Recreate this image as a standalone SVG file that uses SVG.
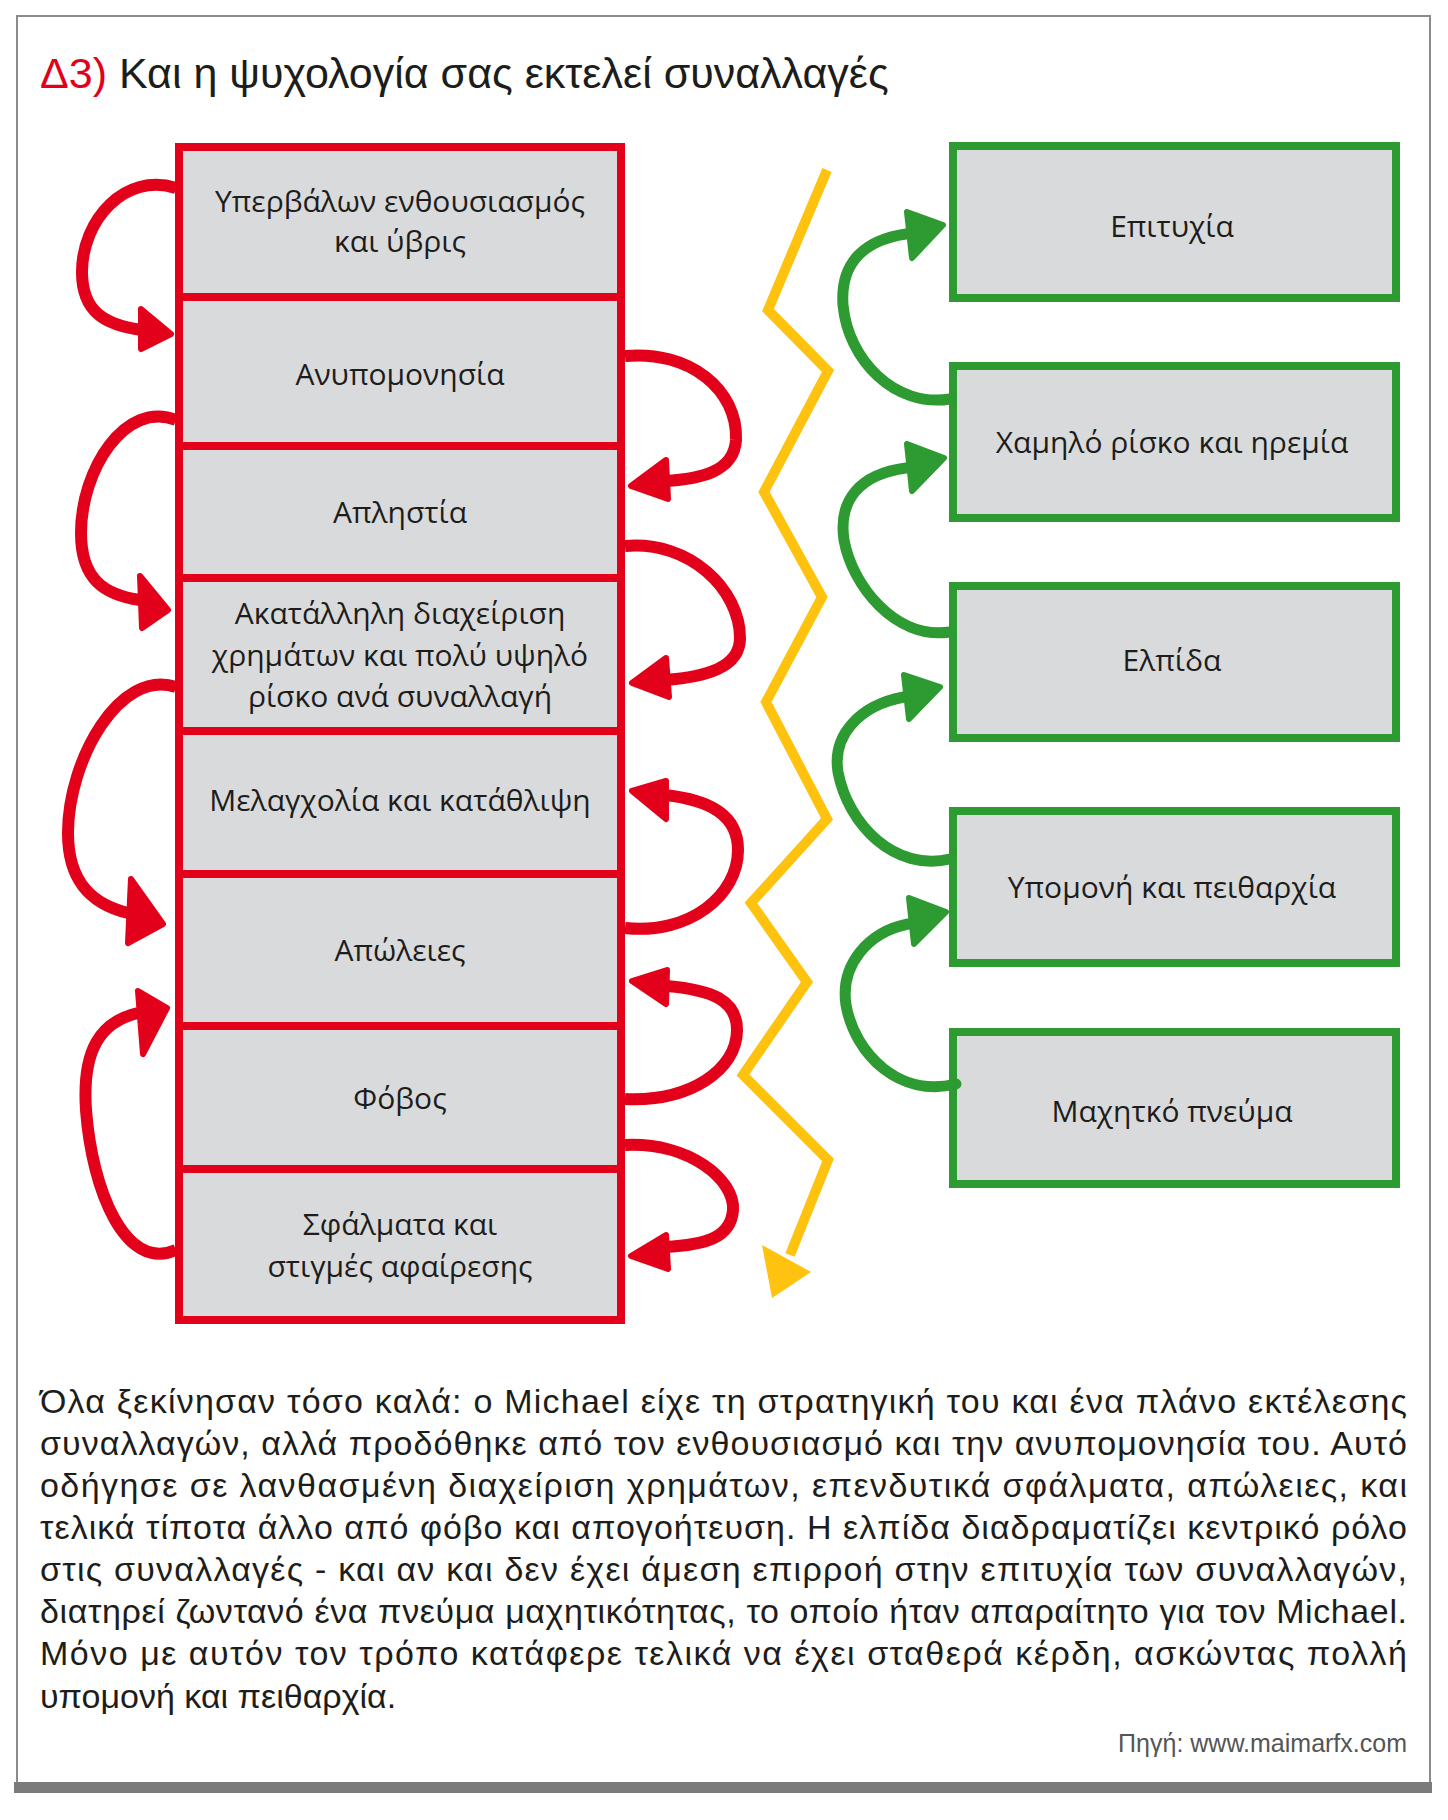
<svg xmlns="http://www.w3.org/2000/svg" width="1448" height="1820" viewBox="0 0 1448 1820">
<style>
.frame{fill:none;stroke:#8c8c8c;stroke-width:2}
.rbox{fill:#D9DADC;stroke:#E2001A;stroke-width:8}
.gbox{fill:#D9DADC;stroke:#2E9A32;stroke-width:8}
.lbl{font-family:"Open Sans","Noto Sans",sans-serif;font-size:30px;fill:#1d1d1b;text-anchor:middle}
.rl{fill:none;stroke:#E2001A;stroke-width:12}
.rh{fill:#E2001A;stroke:#E2001A;stroke-width:6;stroke-linejoin:round}
.gl{fill:none;stroke:#2E9A32;stroke-width:11;stroke-linecap:round}
.gh{fill:#2E9A32;stroke:#2E9A32;stroke-width:6;stroke-linejoin:round}
.yl{fill:none;stroke:#FFC20E;stroke-width:10;stroke-linejoin:miter;stroke-miterlimit:10}
.yh{fill:#FFC20E}
.para{font-family:"Liberation Sans",Arial,sans-serif;font-size:34px;fill:#1d1d1b}
</style>
<rect x="0" y="0" width="1448" height="1820" fill="#ffffff"/>
<g id="frame">
<path class="frame" d="M17,1784 V16 H1430 V1784"/>
<rect x="14" y="1782" width="1418" height="11" fill="#7b7b7b"/>
</g>
<g id="title">
<text x="40" y="88" font-family="'Liberation Sans',Arial,sans-serif" font-size="43" fill="#1d1d1b"><tspan fill="#E2001A">Δ3)</tspan> Και η ψυχολογία σας εκτελεί συναλλαγές</text>
</g>
<g id="red-nodes">
<g id="r1"><rect class="rbox" x="179" y="147" width="442" height="150"/><text class="lbl" x="400" y="212">Υπερβάλων ενθουσιασμός</text><text class="lbl" x="400" y="252">και ύβρις</text></g>
<g id="r2"><rect class="rbox" x="179" y="297" width="442" height="149"/><text class="lbl" x="400" y="385">Ανυπομονησία</text></g>
<g id="r3"><rect class="rbox" x="179" y="446" width="442" height="132"/><text class="lbl" x="400" y="523">Απληστία</text></g>
<g id="r4"><rect class="rbox" x="179" y="578" width="442" height="153"/><text class="lbl" x="400" y="624">Ακατάλληλη διαχείριση</text><text class="lbl" x="400" y="666">χρημάτων και πολύ υψηλό</text><text class="lbl" x="400" y="707">ρίσκο ανά συναλλαγή</text></g>
<g id="r5"><rect class="rbox" x="179" y="731" width="442" height="143"/><text class="lbl" x="400" y="811">Μελαγχολία και κατάθλιψη</text></g>
<g id="r6"><rect class="rbox" x="179" y="874" width="442" height="152"/><text class="lbl" x="400" y="961">Απώλειες</text></g>
<g id="r7"><rect class="rbox" x="179" y="1026" width="442" height="143"/><text class="lbl" x="400" y="1109">Φόβος</text></g>
<g id="r8"><rect class="rbox" x="179" y="1169" width="442" height="151"/><text class="lbl" x="400" y="1235">Σφάλματα και</text><text class="lbl" x="400" y="1277">στιγμές αφαίρεσης</text></g>
</g>
<g id="green-nodes">
<g id="g1"><rect class="gbox" x="953" y="146" width="443" height="152"/><text class="lbl" x="1172" y="237">Επιτυχία</text></g>
<g id="g2"><rect class="gbox" x="953" y="366" width="443" height="152"/><text class="lbl" x="1172" y="453">Χαμηλό ρίσκο και ηρεμία</text></g>
<g id="g3"><rect class="gbox" x="953" y="586" width="443" height="152"/><text class="lbl" x="1172" y="671">Ελπίδα</text></g>
<g id="g4"><rect class="gbox" x="953" y="811" width="443" height="152"/><text class="lbl" x="1172" y="898">Υπομονή και πειθαρχία</text></g>
<g id="g5"><rect class="gbox" x="953" y="1032" width="443" height="152"/><text class="lbl" x="1172" y="1122">Μαχητκό πνεύμα</text></g>
</g>
<g id="connectors">
<path class="rl" d="M176,188 C125,172 82,220 82,272 C82,312 105,325 142,330"/>
<polygon class="rh" points="141,309 171,334 141,349"/>
<path class="rl" d="M176,420 C125,400 81,470 81,533 C81,580 105,595 140,600"/>
<polygon class="rh" points="140,576 168,610 142,628"/>
<path class="rl" d="M176,687 C120,668 68,760 68,833 C68,885 95,905 128,913"/>
<polygon class="rh" points="131,879 163,924 128,943"/>
<path class="rl" d="M176,1250 C125,1272 92,1190 86,1110 C82,1050 100,1022 138,1013"/>
<polygon class="rh" points="138,991 167,1008 143,1054"/>
<path class="rl" d="M625,356 C690,350 738,390 736,440 C734,472 700,479 665,481"/>
<polygon class="rh" points="666,460 631,486 668,499"/>
<path class="rl" d="M625,546 C690,540 740,590 740,638 C740,668 705,677 665,680"/>
<polygon class="rh" points="666,658 632,683 669,697"/>
<path class="rl" d="M625,928 C690,935 738,895 738,850 C738,815 710,800 665,795"/>
<polygon class="rh" points="666,781 632,791 666,819"/>
<path class="rl" d="M625,1099 C690,1102 737,1070 737,1030 C737,1000 712,990 667,986"/>
<polygon class="rh" points="667,970 632,981 666,1004"/>
<path class="rl" d="M625,1145 C690,1142 735,1180 733,1210 C731,1238 705,1245 665,1247"/>
<polygon class="rh" points="666,1235 631,1256 668,1269"/>
<path class="gl" d="M950,399 C895,408 848,360 843,305 C840,262 865,240 906,234"/>
<polygon class="gh" points="907,212 943,225 912,258"/>
<path class="gl" d="M950,632 C895,640 852,585 844,540 C838,500 860,474 906,468"/>
<polygon class="gh" points="907,444 944,458 912,491"/>
<path class="gl" d="M950,859 C895,872 848,825 838,772 C832,735 860,705 904,697"/>
<polygon class="gh" points="904,675 940,687 909,719"/>
<path class="gl" d="M956,1084 C900,1098 855,1055 846,1005 C840,965 868,932 908,924"/>
<polygon class="gh" points="909,898 946,912 914,944"/>
<polyline class="yl" points="827,170 768,310 828,371 764,492 822,597 766,702 827,819 751,903 807,982 743,1075 828,1160 790,1255"/>
<polygon class="yh" points="762,1245 772,1298 811,1272"/>
</g>
<g id="paragraph" class="para">
<text x="40" y="1413" textLength="1367" lengthAdjust="spacing">Όλα ξεκίνησαν τόσο καλά: ο Michael είχε τη στρατηγική του και ένα πλάνο εκτέλεσης</text>
<text x="40" y="1455" textLength="1367" lengthAdjust="spacing">συναλλαγών, αλλά προδόθηκε από τον ενθουσιασμό και την ανυπομονησία του. Αυτό</text>
<text x="40" y="1497" textLength="1367" lengthAdjust="spacing">οδήγησε σε λανθασμένη διαχείριση χρημάτων, επενδυτικά σφάλματα, απώλειες, και</text>
<text x="40" y="1539" textLength="1367" lengthAdjust="spacing">τελικά τίποτα άλλο από φόβο και απογοήτευση. Η ελπίδα διαδραματίζει κεντρικό ρόλο</text>
<text x="40" y="1581" textLength="1367" lengthAdjust="spacing">στις συναλλαγές - και αν και δεν έχει άμεση επιρροή στην επιτυχία των συναλλαγών,</text>
<text x="40" y="1623" textLength="1367" lengthAdjust="spacing">διατηρεί ζωντανό ένα πνεύμα μαχητικότητας, το οποίο ήταν απαραίτητο για τον Michael.</text>
<text x="40" y="1665" textLength="1367" lengthAdjust="spacing">Μόνο με αυτόν τον τρόπο κατάφερε τελικά να έχει σταθερά κέρδη, ασκώντας πολλή</text>
<text x="40" y="1708">υπομονή και πειθαρχία.</text>
</g>
<g id="source">
<text x="1407" y="1752" text-anchor="end" font-family="'Liberation Sans',Arial,sans-serif" font-size="25" fill="#555555">Πηγή: www.maimarfx.com</text>
</g>
</svg>
